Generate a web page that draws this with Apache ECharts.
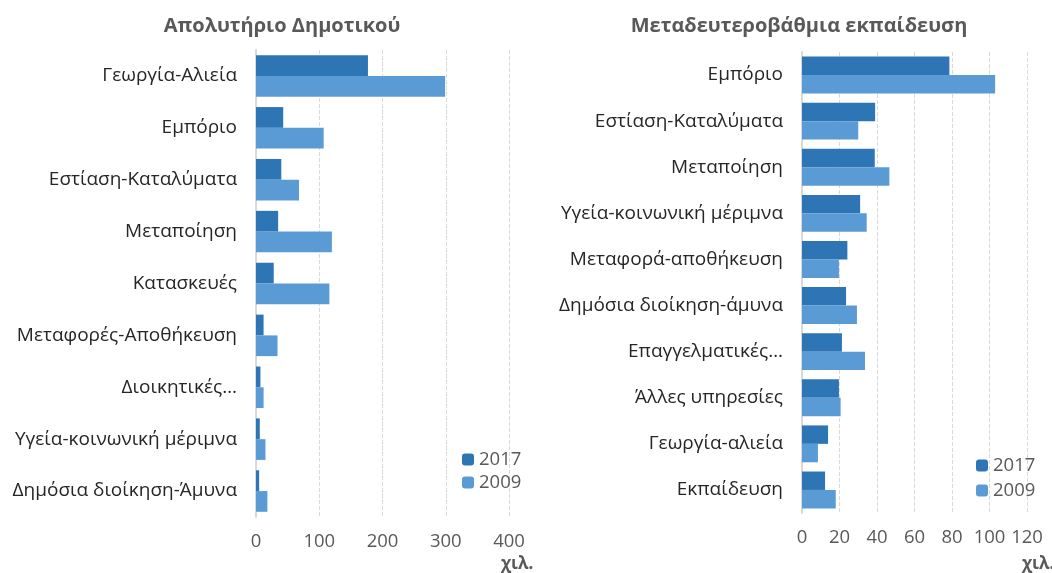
<!DOCTYPE html>
<html>
<head>
<meta charset="utf-8">
<script src="https://cdn.jsdelivr.net/npm/echarts@6/dist/echarts.min.js"></script>
<style>
  html, body { margin: 0; padding: 0; background: #fff; }
  #chart { width: 1052px; height: 573px; }
</style>
</head>
<body>
<div id="chart"></div>
<script>
// Απολυτήριο Δημοτικού (χιλ.)
var leftCats = ['Γεωργία-Αλιεία', 'Εμπόριο', 'Εστίαση-Καταλύματα', 'Μεταποίηση', 'Κατασκευές',
  'Μεταφορές-Αποθήκευση', 'Διοικητικές…', 'Υγεία-κοινωνική μέριμνα', 'Δημόσια διοίκηση-Άμυνα'];
var left2017 = [177, 43, 40, 35, 28, 12, 7, 6, 5];
var left2009 = [299, 107, 68, 120, 116, 34, 12, 15, 18];

// Μεταδευτεροβάθμια εκπαίδευση (χιλ.)
var rightCats = ['Εμπόριο', 'Εστίαση-Καταλύματα', 'Μεταποίηση', 'Υγεία-κοινωνική μέριμνα',
  'Μεταφορά-αποθήκευση', 'Δημόσια διοίκηση-άμυνα', 'Επαγγελματικές…', 'Άλλες υπηρεσίες',
  'Γεωργία-αλιεία', 'Εκπαίδευση'];
var right2017 = [78.6, 39, 38.8, 31, 24.2, 23.5, 21.3, 19.7, 13.9, 12.3];
var right2009 = [103, 30, 46.6, 34.5, 19.7, 29.3, 33.6, 20.6, 8.5, 18];

var leftTicks = [0, 400, 100];   // min, max, interval
var rightTicks = [0, 120, 20];

var myChart = echarts.init(document.getElementById('chart'));

var font = 'Open Sans';
var c2017 = '#2e75b6';
var c2009 = '#5b9bd5';

function valueAxis(grid, t) {
  return {
    type: 'value', gridIndex: grid, min: t[0], max: t[1], interval: t[2],
    axisLine: { show: false }, axisTick: { show: false },
    axisLabel: { color: '#595959', fontFamily: font, fontSize: 18.5, margin: 15 },
    splitLine: { lineStyle: { color: '#d9d9d9', type: 'dashed', width: 1 } }
  };
}

function catAxis(grid, cats) {
  return {
    type: 'category', gridIndex: grid, data: cats, inverse: true,
    axisLine: { lineStyle: { color: '#d9d9d9', width: 2 } },
    axisTick: { show: false },
    axisLabel: { color: '#262626', fontFamily: font, fontSize: 19, margin: 19 }
  };
}

function bars(name, grid, data, color) {
  return {
    name: name, type: 'bar', xAxisIndex: grid, yAxisIndex: grid, data: data,
    barGap: '0%', barCategoryGap: '20%',
    itemStyle: { color: color }
  };
}

var titleStyle = { color: '#595959', fontSize: 20, fontWeight: 'bold', fontFamily: font };
var unitStyle = { color: '#595959', fontSize: 17, fontWeight: 'bold', fontFamily: font };
var legendText = { color: '#595959', fontSize: 18.5, fontFamily: font };

var option = {
  animation: false,
  textStyle: { fontFamily: font },
  title: [
    { text: 'Απολυτήριο Δημοτικού', left: 277, top: 11, textAlign: 'center', textStyle: titleStyle },
    { text: 'Μεταδευτεροβάθμια εκπαίδευση', left: 794, top: 11, textAlign: 'center', textStyle: titleStyle },
    { text: 'χιλ.', left: 496, top: 551, textStyle: unitStyle },
    { text: 'χιλ.', left: 1017, top: 551, textStyle: unitStyle }
  ],
  legend: [
    { data: ['2017', '2009'], orient: 'vertical', left: 457, top: 445,
      itemWidth: 12, itemHeight: 12, itemGap: 4, textStyle: legendText },
    { data: ['2017', '2009'], orient: 'vertical', left: 971, top: 451,
      itemWidth: 12, itemHeight: 12, itemGap: 6, textStyle: legendText }
  ],
  grid: [
    { left: 256, right: 543, top: 50, bottom: 56 },
    { left: 802, right: 25, top: 52, bottom: 60 }
  ],
  xAxis: [valueAxis(0, leftTicks), valueAxis(1, rightTicks)],
  yAxis: [catAxis(0, leftCats), catAxis(1, rightCats)],
  series: [
    bars('2017', 0, left2017, c2017),
    bars('2009', 0, left2009, c2009),
    bars('2017', 1, right2017, c2017),
    bars('2009', 1, right2009, c2009)
  ]
};

myChart.setOption(option);
</script>
</body>
</html>
